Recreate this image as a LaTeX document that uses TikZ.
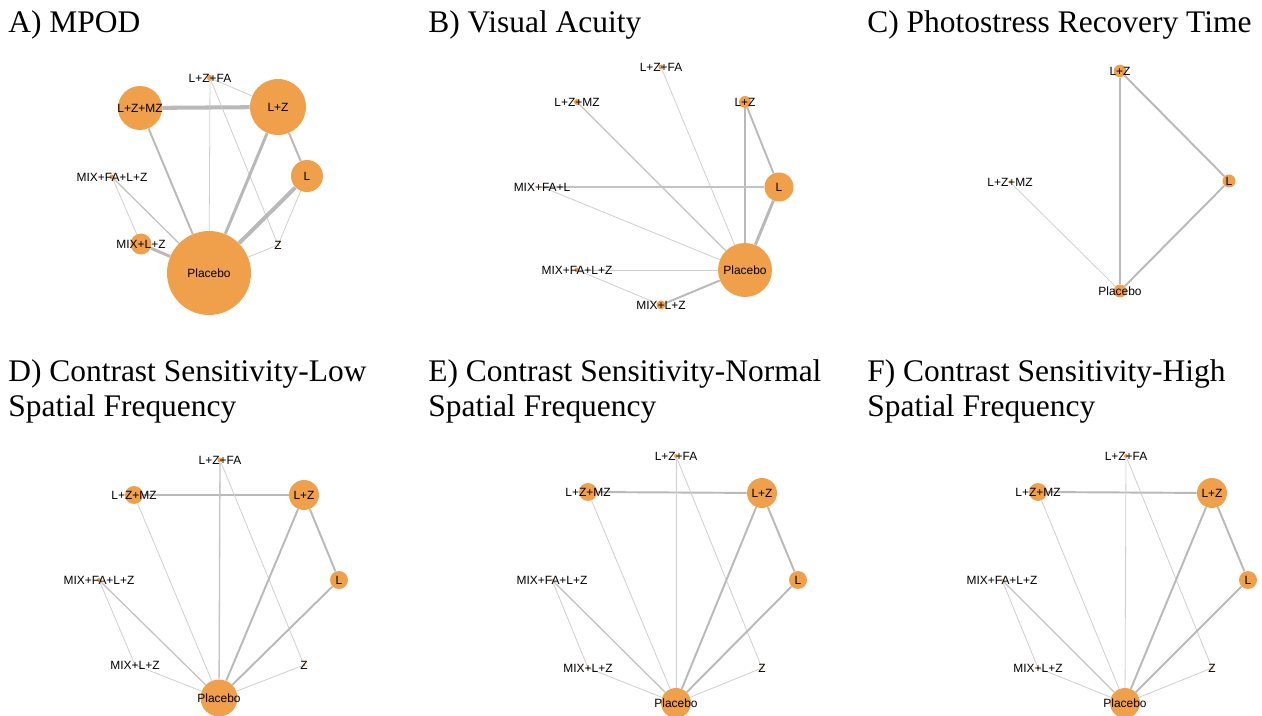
\documentclass[tikz,border=0pt]{standalone}
\usepackage{fontspec}
\setmainfont{Liberation Serif}
\setsansfont{Liberation Sans}
\definecolor{nodeorange}{RGB}{240,160,75}
\definecolor{edgegray}{RGB}{185,185,185}
\tikzset{
	nd/.style={circle, fill=nodeorange, inner sep=0pt},
	lab/.style={font=\fontsize{6.8}{8}\selectfont\sffamily, inner sep=0pt},
	ttl/.style={font=\fontsize{17.9}{20.4}\selectfont, anchor=base west, inner sep=0pt, align=left},
	ew1/.style={line width=0.45pt, draw=edgegray!70},
	ew2/.style={line width=0.75pt, draw=edgegray!85},
	ew3/.style={line width=1.1pt, draw=edgegray},
	ew4/.style={line width=1.7pt, draw=edgegray},
	ew5/.style={line width=2.3pt, draw=edgegray}
}

\begin{document}
\begin{tikzpicture}[x=0.02cm, y=-0.02cm]
			%%%%% START %%%%%
			\useasboundingbox (0, 0) rectangle (1262, 716);
			
			% titles
			\node[ttl] (tA) at (8, 33) {A) MPOD};
			\node[ttl] (tB) at (428, 33) {B) Visual Acuity};
			\node[ttl] (tC) at (867, 33) {C) Photostress Recovery Time};
			\node[ttl] (tD) at (8, 417) {D) Contrast Sensitivity-Low\\Spatial Frequency};
			\node[ttl] (tE) at (428, 417) {E) Contrast Sensitivity-Normal\\Spatial Frequency};
			\node[ttl] (tF) at (867, 417) {F) Contrast Sensitivity-High\\Spatial Frequency};
			
			% A) MPOD
			\node[nd, minimum size=0.12cm] (A-lzfa) at (210, 78) {};
			\node[nd, minimum size=1.12cm] (A-lz) at (278, 107) {};
			\node[nd, minimum size=0.64cm] (A-l) at (307, 176) {};
			\node[nd, minimum size=0.06cm] (A-z) at (278, 245) {};
			\node[nd, minimum size=1.68cm] (A-pl) at (209, 273) {};
			\node[nd, minimum size=0.42cm] (A-mlz) at (141, 244) {};
			\node[nd, minimum size=0.10cm] (A-mfa) at (112, 177) {};
			\node[nd, minimum size=0.88cm] (A-lzmz) at (140, 108) {};
			
			\draw[ew5] (A-lzmz) -- (A-lz);
			\draw[ew1] (A-lzfa) -- (A-lz);
			\draw[ew1] (A-lzfa) -- (A-pl);
			\draw[ew1] (A-lzfa) -- (A-z);
			\draw[ew3] (A-lzmz) -- (A-pl);
			\draw[ew4] (A-lz) -- (A-pl);
			\draw[ew3] (A-lz) -- (A-l);
			\draw[ew5] (A-l) -- (A-pl);
			\draw[ew1] (A-l) -- (A-z);
			\draw[ew1] (A-z) -- (A-pl);
			\draw[ew2] (A-mfa) -- (A-pl);
			\draw[ew1] (A-mfa) -- (A-mlz);
			\draw[ew4] (A-mlz) -- (A-pl);
			
			\node[lab] at (A-lzfa) {L+Z+FA};
			\node[lab] at (A-lz) {L+Z};
			\node[lab] at (A-l) {L};
			\node[lab] at (A-z) {Z};
			\node[lab] at (A-pl) {Placebo};
			\node[lab] at (A-mlz) {MIX+L+Z};
			\node[lab] at (A-mfa) {MIX+FA+L+Z};
			\node[lab] at (A-lzmz) {L+Z+MZ};
			
			% B) Visual Acuity
			\node[nd, minimum size=0.10cm] (B-lzfa) at (661, 67) {};
			\node[nd, minimum size=0.24cm] (B-lz) at (745, 102) {};
			\node[nd, minimum size=0.58cm] (B-l) at (779, 187) {};
			\node[nd, minimum size=1.08cm] (B-pl) at (745, 270) {};
			\node[nd, minimum size=0.18cm] (B-mlz) at (661, 305) {};
			\node[nd, minimum size=0.10cm] (B-mfalz) at (577, 270) {};
			\node[nd, minimum size=0.04cm] (B-mfa) at (542, 187) {};
			\node[nd, minimum size=0.12cm] (B-lzmz) at (577, 102) {};
			
			\draw[ew1] (B-lzfa) -- (B-pl);
			\draw[ew2] (B-lzmz) -- (B-pl);
			\draw[ew3] (B-lz) -- (B-pl);
			\draw[ew3] (B-lz) -- (B-l);
			\draw[ew4] (B-l) -- (B-pl);
			\draw[ew2] (B-mfa) -- (B-l);
			\draw[ew1] (B-mfa) -- (B-pl);
			\draw[ew1] (B-mfalz) -- (B-pl);
			\draw[ew1] (B-mfalz) -- (B-mlz);
			\draw[ew3] (B-mlz) -- (B-pl);
			
			\node[lab] at (B-lzfa) {L+Z+FA};
			\node[lab] at (B-lz) {L+Z};
			\node[lab] at (B-l) {L};
			\node[lab] at (B-pl) {Placebo};
			\node[lab] at (B-mlz) {MIX+L+Z};
			\node[lab] at (B-mfalz) {MIX+FA+L+Z};
			\node[lab] at (B-mfa) {MIX+FA+L};
			\node[lab] at (B-lzmz) {L+Z+MZ};
			
			% C) Photostress Recovery Time
			\node[nd, minimum size=0.25cm] (C-lz) at (1120, 71) {};
			\node[nd, minimum size=0.26cm] (C-l) at (1229, 181) {};
			\node[nd, minimum size=0.26cm] (C-pl) at (1120, 291) {};
			\node[nd, minimum size=0.07cm] (C-lzmz) at (1010, 182) {};
			
			\draw[ew3] (C-lz) -- (C-pl);
			\draw[ew3] (C-lz) -- (C-l);
			\draw[ew3] (C-l) -- (C-pl);
			\draw[ew1] (C-lzmz) -- (C-pl);
			
			\node[lab] at (C-lz) {L+Z};
			\node[lab] at (C-l) {L};
			\node[lab] at (C-pl) {Placebo};
			\node[lab] at (C-lzmz) {L+Z+MZ};
			
			% D) low spatial frequency
			\node[nd, minimum size=0.10cm] (D-lzfa) at (220, 460) {};
			\node[nd, minimum size=0.60cm] (D-lz) at (304, 495) {};
			\node[nd, minimum size=0.36cm] (D-l) at (339, 580) {};
			\node[nd, minimum size=0.06cm] (D-z) at (304, 665) {};
			\node[nd, minimum size=0.74cm] (D-pl) at (219, 698) {};
			\node[nd, minimum size=0.04cm] (D-mlz) at (135, 665) {};
			\node[nd, minimum size=0.08cm] (D-mfa) at (99, 580) {};
			\node[nd, minimum size=0.36cm] (D-lzmz) at (134, 495) {};
			
			\draw[ew3] (D-lzmz) -- (D-lz);
			\draw[ew2] (D-lzfa) -- (D-pl);
			\draw[ew1] (D-lzfa) -- (D-z);
			\draw[ew1] (D-lzmz) -- (D-pl);
			\draw[ew3] (D-lz) -- (D-pl);
			\draw[ew3] (D-lz) -- (D-l);
			\draw[ew3] (D-l) -- (D-pl);
			\draw[ew1] (D-z) -- (D-pl);
			\draw[ew2] (D-mfa) -- (D-pl);
			\draw[ew1] (D-mfa) -- (D-mlz);
			\draw[ew1] (D-mlz) -- (D-pl);
			
			\node[lab] at (D-lzfa) {L+Z+FA};
			\node[lab] at (D-lz) {L+Z};
			\node[lab] at (D-l) {L};
			\node[lab] at (D-z) {Z};
			\node[lab] at (D-pl) {Placebo};
			\node[lab] at (D-mlz) {MIX+L+Z};
			\node[lab] at (D-mfa) {MIX+FA+L+Z};
			\node[lab] at (D-lzmz) {L+Z+MZ};
			
			% E) normal spatial frequency
			\node[nd, minimum size=0.08cm] (E-lzfa) at (676, 456) {};
			\node[nd, minimum size=0.60cm] (E-lz) at (762, 493) {};
			\node[nd, minimum size=0.36cm] (E-l) at (798, 580) {};
			\node[nd, minimum size=0.06cm] (E-z) at (762, 668) {};
			\node[nd, minimum size=0.60cm] (E-pl) at (676, 703) {};
			\node[nd, minimum size=0.06cm] (E-mlz) at (588, 668) {};
			\node[nd, minimum size=0.06cm] (E-mfa) at (552, 580) {};
			\node[nd, minimum size=0.36cm] (E-lzmz) at (588, 492) {};
			
			\draw[ew3] (E-lzmz) -- (E-lz);
			\draw[ew1] (E-lzfa) -- (E-pl);
			\draw[ew1] (E-lzfa) -- (E-z);
			\draw[ew1] (E-lzmz) -- (E-pl);
			\draw[ew3] (E-lz) -- (E-pl);
			\draw[ew3] (E-lz) -- (E-l);
			\draw[ew3] (E-l) -- (E-pl);
			\draw[ew1] (E-z) -- (E-pl);
			\draw[ew2] (E-mfa) -- (E-pl);
			\draw[ew1] (E-mfa) -- (E-mlz);
			\draw[ew1] (E-mlz) -- (E-pl);
			
			\node[lab] at (E-lzfa) {L+Z+FA};
			\node[lab] at (E-lz) {L+Z};
			\node[lab] at (E-l) {L};
			\node[lab] at (E-z) {Z};
			\node[lab] at (E-pl) {Placebo};
			\node[lab] at (E-mlz) {MIX+L+Z};
			\node[lab] at (E-mfa) {MIX+FA+L+Z};
			\node[lab] at (E-lzmz) {L+Z+MZ};
			
			% F) high spatial frequency
			\node[nd, minimum size=0.08cm] (F-lzfa) at (1126, 456) {};
			\node[nd, minimum size=0.60cm] (F-lz) at (1212, 493) {};
			\node[nd, minimum size=0.36cm] (F-l) at (1248, 580) {};
			\node[nd, minimum size=0.06cm] (F-z) at (1212, 668) {};
			\node[nd, minimum size=0.60cm] (F-pl) at (1125, 703) {};
			\node[nd, minimum size=0.06cm] (F-mlz) at (1038, 668) {};
			\node[nd, minimum size=0.06cm] (F-mfa) at (1002, 580) {};
			\node[nd, minimum size=0.36cm] (F-lzmz) at (1038, 492) {};
			
			\draw[ew3] (F-lzmz) -- (F-lz);
			\draw[ew1] (F-lzfa) -- (F-pl);
			\draw[ew1] (F-lzfa) -- (F-z);
			\draw[ew1] (F-lzmz) -- (F-pl);
			\draw[ew3] (F-lz) -- (F-pl);
			\draw[ew3] (F-lz) -- (F-l);
			\draw[ew3] (F-l) -- (F-pl);
			\draw[ew1] (F-z) -- (F-pl);
			\draw[ew2] (F-mfa) -- (F-pl);
			\draw[ew1] (F-mfa) -- (F-mlz);
			\draw[ew1] (F-mlz) -- (F-pl);
			
			\node[lab] at (F-lzfa) {L+Z+FA};
			\node[lab] at (F-lz) {L+Z};
			\node[lab] at (F-l) {L};
			\node[lab] at (F-z) {Z};
			\node[lab] at (F-pl) {Placebo};
			\node[lab] at (F-mlz) {MIX+L+Z};
			\node[lab] at (F-mfa) {MIX+FA+L+Z};
			\node[lab] at (F-lzmz) {L+Z+MZ};
			
			%%%%% END %%%%%
\end{tikzpicture}
\end{document}
